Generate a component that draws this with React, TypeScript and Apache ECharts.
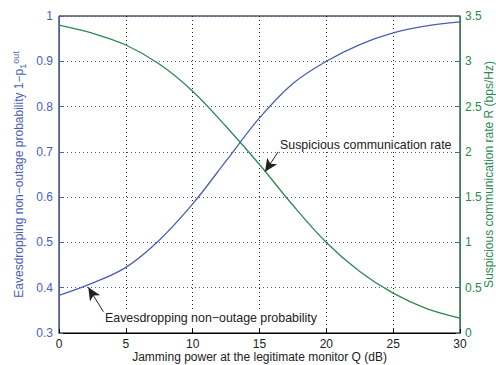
import React, { useEffect, useRef } from "react";
import * as echarts from "echarts";

const xValues = [0, 2.5, 5, 7.5, 10, 12.5, 15, 17.5, 20, 22.5, 25, 27.5, 30];
const nonOutage = [0.383, 0.41, 0.445, 0.505, 0.585, 0.68, 0.775, 0.851, 0.9, 0.937, 0.963, 0.978, 0.987];
const rate = [3.4, 3.31, 3.18, 2.97, 2.67, 2.28, 1.86, 1.41, 1.0, 0.68, 0.44, 0.27, 0.165];

const blueArrow = { from: [3.32, 0.347], to: [2.19, 0.401] };
const greenArrow = { from: [16.4, 2.0], to: [15.41, 1.78] };

const BLUE = "#4a5fb4";
const GREEN = "#2a8a52";
const FONT = "'Liberation Sans', Arial, sans-serif";

export default function App() {
  const ref = useRef<HTMLDivElement>(null);
  useEffect(() => {
    const chart = echarts.init(ref.current!, null, { renderer: "svg" });
    chart.setOption({
      animation: false,
      textStyle: { fontFamily: FONT },
      grid: {
        left: 59,
        right: 36,
        top: 16,
        bottom: 32,
        show: true,
        borderColor: "#000",
        borderWidth: 1,
        containLabel: false,
        outerBoundsMode: "none",
      },
      xAxis: {
        type: "value",
        min: 0,
        max: 30,
        interval: 5,
        name: "Jamming power at the legitimate monitor Q (dB)",
        nameLocation: "middle",
        nameGap: 18,
        nameMoveOverlap: false,
        nameTextStyle: { color: "#222", fontSize: 12, fontFamily: FONT },
        axisLine: { lineStyle: { color: "#000" } },
        axisTick: { inside: true, length: 4, lineStyle: { color: "#000" } },
        axisLabel: { color: "#222", fontSize: 12, margin: 5, fontFamily: FONT },
        splitLine: { show: true, lineStyle: { color: "#222", type: [1, 3], width: 1 } },
      },
      yAxis: [
        {
          type: "value",
          min: 0.3,
          max: 1,
          interval: 0.1,
          position: "left",
          name: "{a|Eavesdropping non−outage probability 1−p}{s|1}{u|out}",
          nameLocation: "middle",
          nameGap: 32,
          nameMoveOverlap: false,
          nameTextStyle: {
            color: BLUE,
            fontSize: 12,
            fontFamily: FONT,
            rich: {
              a: { color: BLUE, fontSize: 12, fontFamily: FONT },
              s: { color: BLUE, fontSize: 9, fontFamily: FONT, verticalAlign: "bottom", padding: [7, 0, 0, 0] },
              u: { color: BLUE, fontSize: 9, fontFamily: FONT, verticalAlign: "top", padding: [0, 0, 7, 0] },
            },
          },
          axisLine: { show: true, lineStyle: { color: BLUE } },
          axisTick: { show: true, inside: true, length: 4, lineStyle: { color: BLUE } },
          axisLabel: {
            color: BLUE,
            fontSize: 12,
            margin: 6,
            fontFamily: FONT,
            formatter: (v: number) => (Math.abs(v - 1) < 1e-9 ? "1" : v.toFixed(1)),
          },
          splitLine: { show: true, lineStyle: { color: BLUE, type: [1, 3], width: 1 } },
        },
        {
          type: "value",
          min: 0,
          max: 3.5,
          interval: 0.5,
          position: "right",
          name: "Suspicious communication rate R (bps/Hz)",
          nameLocation: "middle",
          nameGap: 22.5,
          nameRotate: 90,
          nameMoveOverlap: false,
          nameTextStyle: { color: GREEN, fontSize: 12, fontFamily: FONT },
          axisLine: { show: true, lineStyle: { color: GREEN } },
          axisTick: { show: true, inside: true, length: 4, lineStyle: { color: GREEN } },
          axisLabel: { color: GREEN, fontSize: 12, margin: 5, fontFamily: FONT },
          splitLine: { show: false },
        },
      ],
      series: [
        {
          type: "line",
          yAxisIndex: 0,
          data: xValues.map((x, i) => [x, nonOutage[i]]),
          smooth: 0.35,
          showSymbol: false,
          lineStyle: { color: BLUE, width: 1.3 },
          markLine: {
            silent: true,
            symbol: ["none", "arrow"],
            symbolSize: [9, 13],
            label: { show: false },
            lineStyle: { color: "#222", width: 1, type: "solid" },
            itemStyle: { color: "#111" },
            data: [[{ coord: blueArrow.from }, { coord: blueArrow.to }]],
          },
        },
        {
          type: "line",
          yAxisIndex: 1,
          data: xValues.map((x, i) => [x, rate[i]]),
          smooth: 0.35,
          showSymbol: false,
          lineStyle: { color: GREEN, width: 1.3 },
          markLine: {
            silent: true,
            symbol: ["none", "arrow"],
            symbolSize: [9, 13],
            label: { show: false },
            lineStyle: { color: "#222", width: 1, type: "solid" },
            itemStyle: { color: "#111" },
            data: [[{ coord: greenArrow.from }, { coord: greenArrow.to }]],
          },
        },
      ],
      graphic: [
        {
          type: "text",
          left: 279,
          top: 138,
          z: 100,
          style: {
            text: "Suspicious communication rate",
            fill: "#222",
            fontSize: 12.4,
            fontFamily: FONT,
            backgroundColor: "#fff",
            padding: [1, 1],
          },
        },
        {
          type: "text",
          left: 104,
          top: 311,
          z: 100,
          style: {
            text: "Eavesdropping non−outage probability",
            fill: "#222",
            fontSize: 12.4,
            fontFamily: FONT,
            backgroundColor: "#fff",
            padding: [1, 1],
          },
        },
      ],
    });
    return () => chart.dispose();
  }, []);
  return <div ref={ref} style={{ width: 496, height: 365, position: "absolute", left: 0, top: 0, background: "#fff" }} />;
}
